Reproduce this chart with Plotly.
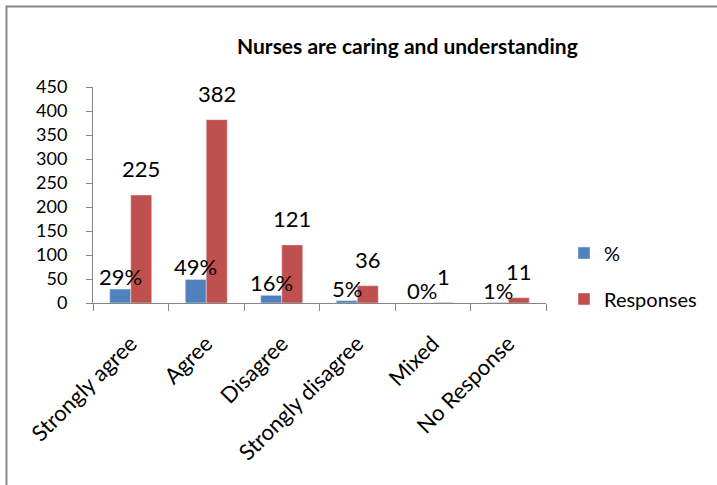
import plotly.graph_objects as go

categories = ["Strongly agree", "Agree", "Disagree", "Strongly disagree", "Mixed", "No Response"]
pct_values = [29, 49, 16, 5, 0, 1]
pct_labels = ["29%", "49%", "16%", "5%", "0%", "1%"]
responses = [225, 382, 121, 36, 1, 11]
y_ticks = [0, 50, 100, 150, 200, 250, 300, 350, 400, 450]

W, H = 717, 485
L, R, T, B = 93, 171, 87, 182
plot_w = W - L - R
plot_h = H - T - B

BLUE = "#4F81BD"
RED = "#C0504D"
AXIS = "#868686"
FONT = "Lato"

bargap = 0.444
cat_w = plot_w / len(categories)
bar_w = cat_w * (1 - bargap) / 2

fig = go.Figure()
fig.add_trace(go.Bar(x=categories, y=pct_values, name="%", marker_color=BLUE,
                     legend="legend", hoverinfo="skip"))
fig.add_trace(go.Bar(x=categories, y=responses, name="Responses", marker_color=RED,
                     legend="legend2", hoverinfo="skip"))

annotations = []
for c, v, t in zip(categories, pct_values, pct_labels):
    annotations.append(dict(x=c, y=v, xref="x", yref="y", text=t, showarrow=False,
                            xshift=-bar_w / 2, yshift=-3, yanchor="bottom",
                            font=dict(family=FONT, size=22, color="black")))
for c, v in zip(categories, responses):
    annotations.append(dict(x=c, y=v, xref="x", yref="y", text=str(v), showarrow=False,
                            xshift=bar_w / 2, yshift=11, yanchor="bottom",
                            font=dict(family=FONT, size=22, color="black")))

annotations.append(dict(text="<b>Nurses are caring and understanding</b>", xref="paper", yref="paper",
                        x=(407 - L) / plot_w, y=(H - B - 45) / plot_h, xanchor="center", yanchor="middle",
                        showarrow=False, font=dict(family=FONT, size=21, color="black")))

def px2x(px):
    return (px - L) / plot_w

def py2y(py):
    return (H - B - py) / plot_h

shapes = [
    dict(type="line", xref="paper", yref="paper", x0=px2x(6), x1=px2x(W + 5),
         y0=py2y(6.5), y1=py2y(6.5), line=dict(color="#8a8a8a", width=2)),
    dict(type="line", xref="paper", yref="paper", x0=px2x(6.5), x1=px2x(6.5),
         y0=py2y(5.5), y1=py2y(H + 5), line=dict(color="#8a8a8a", width=2)),
]

fig.update_layout(
    width=W, height=H,
    margin=dict(l=L, r=R, t=T, b=B, pad=0),
    paper_bgcolor="white", plot_bgcolor="white",
    barmode="group", bargap=bargap, bargroupgap=0,
    font=dict(family=FONT, size=18, color="black"),
    showlegend=True,
    legend=dict(x=px2x(564), y=py2y(253), xanchor="left", yanchor="middle",
                font=dict(family=FONT, size=20, color="black"), bgcolor="rgba(0,0,0,0)"),
    legend2=dict(x=px2x(564), y=py2y(299), xanchor="left", yanchor="middle",
                 font=dict(family=FONT, size=20, color="black"), bgcolor="rgba(0,0,0,0)"),
    annotations=annotations,
    shapes=shapes,
)
fig.update_xaxes(showline=True, linecolor=AXIS, linewidth=1, ticks="outside", tickson="boundaries",
                 ticklen=7, tickcolor=AXIS, tickangle=-45, showgrid=False,
                 ticklabelstandoff=18,
                 tickfont=dict(family=FONT, size=22, color="black"))
fig.update_yaxes(range=[0, 450], tickvals=y_ticks, showline=True, linecolor=AXIS, linewidth=1,
                 ticks="outside", ticklen=6, tickcolor=AXIS, showgrid=False, zeroline=False,
                 ticklabelstandoff=15,
                 tickfont=dict(family=FONT, size=18, color="black"))

fig.write_html("out.html", config={"displayModeBar": False},
               post_script="document.body.style.margin='0';")
